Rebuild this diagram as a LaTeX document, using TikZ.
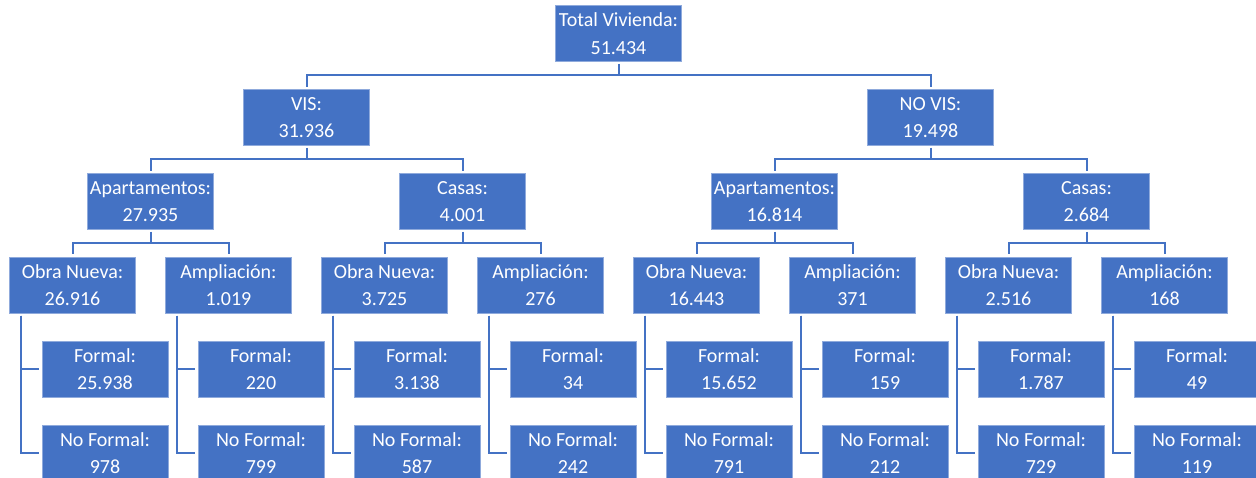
\documentclass[tikz,border=0pt]{standalone}
\usepackage{fontspec}
\setmainfont{Carlito}
\definecolor{boxfill}{HTML}{4472C4}
\definecolor{boxline}{HTML}{8FAADC}
\definecolor{linkcol}{HTML}{4472C4}
\tikzset{
  box/.style={draw=boxline,line width=0.6bp,fill=boxfill,text=white,rectangle,
    minimum width=126bp,minimum height=56bp,inner sep=0pt,align=center,
    font=\fontsize{20bp}{27.5bp}\selectfont},
  link/.style={draw=linkcol,line width=2bp,shorten <=2bp,shorten >=2.5bp},
}
\begin{document}
\begin{tikzpicture}[line join=miter]
\useasboundingbox (0bp,0bp) rectangle (1256bp,478bp);
%%
\node (total) at (618.5bp,444.5bp) [box] {Total Vivienda:\\51.434};
  \node (vis) at (306.5bp,360.5bp) [box] {VIS:\\31.936};
  \node (no_vis) at (930.5bp,360.5bp) [box] {NO VIS:\\19.498};
  \node (apto_vis) at (150.5bp,276.5bp) [box] {Apartamentos:\\27.935};
  \node (casas_vis) at (462.5bp,276.5bp) [box] {Casas:\\4.001};
  \node (apto_novis) at (774.5bp,276.5bp) [box] {Apartamentos:\\16.814};
  \node (casas_novis) at (1086.5bp,276.5bp) [box] {Casas:\\2.684};
  \node (obra_1) at (72.5bp,192.7bp) [box] {Obra Nueva:\\26.916};
  \node (ampl_1) at (228.5bp,192.7bp) [box] {Ampliación:\\1.019};
  \node (obra_2) at (384.5bp,192.7bp) [box] {Obra Nueva:\\3.725};
  \node (ampl_2) at (540.5bp,192.7bp) [box] {Ampliación:\\276};
  \node (obra_3) at (696.5bp,192.7bp) [box] {Obra Nueva:\\16.443};
  \node (ampl_3) at (852.5bp,192.7bp) [box] {Ampliación:\\371};
  \node (obra_4) at (1008.5bp,192.7bp) [box] {Obra Nueva:\\2.516};
  \node (ampl_4) at (1164.5bp,192.7bp) [box] {Ampliación:\\168};
  \node (formal_1) at (105bp,108.8bp) [box] {Formal:\\25.938};
  \node (formal_2) at (261bp,108.8bp) [box] {Formal:\\220};
  \node (formal_3) at (417bp,108.8bp) [box] {Formal:\\3.138};
  \node (formal_4) at (573bp,108.8bp) [box] {Formal:\\34};
  \node (formal_5) at (729bp,108.8bp) [box] {Formal:\\15.652};
  \node (formal_6) at (885bp,108.8bp) [box] {Formal:\\159};
  \node (formal_7) at (1041bp,108.8bp) [box] {Formal:\\1.787};
  \node (formal_8) at (1197bp,108.8bp) [box] {Formal:\\49};
  \node (noformal_1) at (105bp,25bp) [box] {No Formal:\\978};
  \node (noformal_2) at (261bp,25bp) [box] {No Formal:\\799};
  \node (noformal_3) at (417bp,25bp) [box] {No Formal:\\587};
  \node (noformal_4) at (573bp,25bp) [box] {No Formal:\\242};
  \node (noformal_5) at (729bp,25bp) [box] {No Formal:\\791};
  \node (noformal_6) at (885bp,25bp) [box] {No Formal:\\212};
  \node (noformal_7) at (1041bp,25bp) [box] {No Formal:\\729};
  \node (noformal_8) at (1197bp,25bp) [box] {No Formal:\\119};
  \draw [link] (total.south) -- ++(0,-13.5bp) -| (vis.north);
  \draw [link] (total.south) -- ++(0,-13.5bp) -| (no_vis.north);
  \draw [link] (vis.south) -- ++(0,-13.5bp) -| (apto_vis.north);
  \draw [link] (vis.south) -- ++(0,-13.5bp) -| (casas_vis.north);
  \draw [link] (no_vis.south) -- ++(0,-13.5bp) -| (apto_novis.north);
  \draw [link] (no_vis.south) -- ++(0,-13.5bp) -| (casas_novis.north);
  \draw [link] (apto_vis.south) -- ++(0,-13.5bp) -| (obra_1.north);
  \draw [link] (apto_vis.south) -- ++(0,-13.5bp) -| (ampl_1.north);
  \draw [link] (casas_vis.south) -- ++(0,-13.5bp) -| (obra_2.north);
  \draw [link] (casas_vis.south) -- ++(0,-13.5bp) -| (ampl_2.north);
  \draw [link] (apto_novis.south) -- ++(0,-13.5bp) -| (obra_3.north);
  \draw [link] (apto_novis.south) -- ++(0,-13.5bp) -| (ampl_3.north);
  \draw [link] (casas_novis.south) -- ++(0,-13.5bp) -| (obra_4.north);
  \draw [link] (casas_novis.south) -- ++(0,-13.5bp) -| (ampl_4.north);
  \draw [link] ([xshift=12bp]obra_1.south west) |- (formal_1.west);
  \draw [link] ([xshift=12bp]obra_1.south west) |- (noformal_1.west);
  \draw [link] ([xshift=12bp]ampl_1.south west) |- (formal_2.west);
  \draw [link] ([xshift=12bp]ampl_1.south west) |- (noformal_2.west);
  \draw [link] ([xshift=12bp]obra_2.south west) |- (formal_3.west);
  \draw [link] ([xshift=12bp]obra_2.south west) |- (noformal_3.west);
  \draw [link] ([xshift=12bp]ampl_2.south west) |- (formal_4.west);
  \draw [link] ([xshift=12bp]ampl_2.south west) |- (noformal_4.west);
  \draw [link] ([xshift=12bp]obra_3.south west) |- (formal_5.west);
  \draw [link] ([xshift=12bp]obra_3.south west) |- (noformal_5.west);
  \draw [link] ([xshift=12bp]ampl_3.south west) |- (formal_6.west);
  \draw [link] ([xshift=12bp]ampl_3.south west) |- (noformal_6.west);
  \draw [link] ([xshift=12bp]obra_4.south west) |- (formal_7.west);
  \draw [link] ([xshift=12bp]obra_4.south west) |- (noformal_7.west);
  \draw [link] ([xshift=12bp]ampl_4.south west) |- (formal_8.west);
  \draw [link] ([xshift=12bp]ampl_4.south west) |- (noformal_8.west);
%
\end{tikzpicture}
\end{document}
